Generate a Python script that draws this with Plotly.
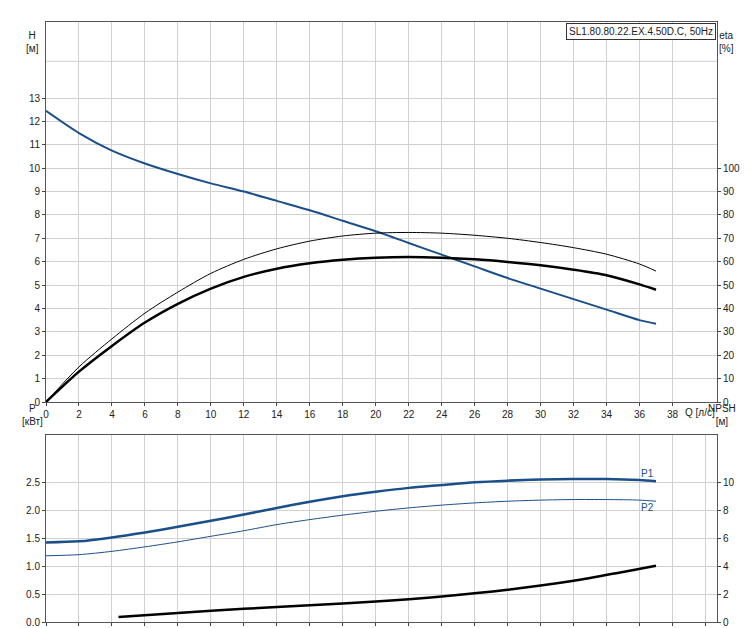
import plotly.graph_objects as go

# Q [l/s]
q = [0, 2, 4, 6, 8, 10, 12, 14, 16, 18, 20, 22, 24, 26, 28, 30, 32, 34, 36, 37]
head = [12.45, 11.5, 10.75, 10.2, 9.75, 9.35, 9.0, 8.6, 8.2, 7.75, 7.3, 6.8, 6.3, 5.8, 5.3, 4.85, 4.4, 3.95, 3.5, 3.35]
eta_hyd = [0, 15, 27, 38, 47, 55, 61, 65.5, 68.8, 71, 72.2, 72.5, 72.2, 71.3, 70, 68.2, 66, 63.2, 59, 56]
eta_tot = [0, 13, 24, 34, 42, 48.5, 53.5, 57, 59.3, 60.8, 61.7, 62, 61.7, 61, 59.9, 58.5, 56.6, 54.2, 50.3, 48]
p1 = [1.43, 1.45, 1.52, 1.61, 1.71, 1.82, 1.93, 2.05, 2.16, 2.26, 2.34, 2.41, 2.46, 2.51, 2.54, 2.56, 2.57, 2.57, 2.55, 2.53]
p2 = [1.19, 1.21, 1.27, 1.35, 1.44, 1.54, 1.64, 1.75, 1.84, 1.92, 1.99, 2.05, 2.10, 2.14, 2.17, 2.19, 2.20, 2.20, 2.19, 2.17]
q_npsh = [4.4, 8, 12, 16, 20, 24, 28, 32, 35, 37]
npsh = [0.36, 0.65, 0.95, 1.2, 1.48, 1.84, 2.32, 2.96, 3.6, 4.04]

BLUE = '#1a4f8a'
GRID = '#d0d0d0'
FONT = dict(family='Liberation Sans, Arial', size=10, color='#222')

def line(x, y, color, width, xa, ya):
    return go.Scatter(x=x, y=y, mode='lines', line=dict(color=color, width=width, shape='spline', smoothing=0.8),
                      xaxis=xa, yaxis=ya, hoverinfo='x+y')

fig = go.Figure()
fig.add_trace(line(q, head, BLUE, 2, 'x', 'y'))
fig.add_trace(line(q, eta_hyd, 'black', 1, 'x', 'y2'))
fig.add_trace(line(q, eta_tot, 'black', 2.5, 'x', 'y2'))
fig.add_trace(line(q, p1, BLUE, 2.5, 'x2', 'y3'))
fig.add_trace(line(q, p2, BLUE, 1, 'x2', 'y3'))
fig.add_trace(line(q_npsh, npsh, 'black', 2.5, 'x2', 'y4'))

xdom = [38 / 752, 709 / 752]
xcommon = dict(range=[0, 40.7], dtick=2, gridcolor=GRID, showline=True, linecolor='#555',
               mirror=True, zeroline=False, ticks='outside', ticklen=3, tickfont=FONT, domain=xdom,
               automargin=False)
ycommon = dict(gridcolor=GRID, showline=True, linecolor='#555', zeroline=False,
               ticks='outside', ticklen=3, tickfont=FONT, automargin=False)

fig.update_layout(
    width=752, height=628, margin=dict(l=0, r=0, t=0, b=0),
    paper_bgcolor='white', plot_bgcolor='white', showlegend=False,
    xaxis=dict(xcommon, anchor='y', tickvals=list(range(0, 40, 2))),
    xaxis2=dict(xcommon, anchor='y3', showticklabels=False),
    yaxis=dict(ycommon, domain=[1 - 394 / 628, 1 - 14 / 628], range=[0, 16.25], tickvals=list(range(0, 14))),
    yaxis2=dict(ycommon, overlaying='y', side='right', anchor='x', range=[0, 162.5],
                tickvals=list(range(0, 101, 10)), showgrid=False),
    yaxis3=dict(ycommon, domain=[1 - 614 / 628, 1 - 427 / 628], range=[0, 3.36],
                tickvals=[0, 0.5, 1, 1.5, 2, 2.5], tickformat='.1f', anchor='x2'),
    yaxis4=dict(ycommon, overlaying='y3', side='right', anchor='x2', range=[0, 13.44],
                tickvals=[0, 2, 4, 6, 8, 10], showgrid=False),
)

fig.add_shape(type='line', xref='x', yref='y', x0=0, x1=40.7, y0=14.57, y1=14.57, line=dict(color=GRID, width=1))

ann = [
    (16, 20, 'H<br>[м]'), (728, 20, 'eta<br>[%]'),
    (12, 421, 'P<br>[кВт]'), (730, 421, 'NPSH<br>[м]'),
]
for x, y, t in ann:
    fig.add_annotation(x=x / 752, y=1 - y / 628, xref='paper', yref='paper', text=t, showarrow=False,
                       font=FONT, align='center')
fig.add_annotation(x=675 / 752, y=1 - 404 / 628, xref='paper', yref='paper', text='Q [л/с]',
                   showarrow=False, font=FONT, xanchor='left')
fig.add_annotation(x=708 / 752, y=1 - 15 / 628, xref='paper', yref='paper', xanchor='right', yanchor='top',
                   text='SL1.80.80.22.EX.4.50D.C, 50Hz', showarrow=False, font=FONT,
                   bordercolor='#333', borderwidth=1, bgcolor='white', borderpad=2)
fig.add_annotation(x=37, y=2.66, xref='x2', yref='y3', text='P1', showarrow=False,
                   font=dict(FONT, color=BLUE), xanchor='right')
fig.add_annotation(x=37, y=2.05, xref='x2', yref='y3', text='P2', showarrow=False,
                   font=dict(FONT, color=BLUE), xanchor='right')

fig.write_html("out.html")
